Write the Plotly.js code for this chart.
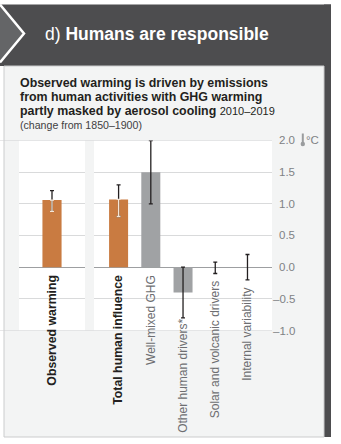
<!DOCTYPE html>
<html>
<head>
<meta charset="utf-8">
<script src="https://cdn.plot.ly/plotly-3.0.1.min.js"></script>
<style>html,body{margin:0;padding:0;background:#fff;}#chart{width:341px;height:444px;}</style>
</head>
<body>
<div id="chart"></div>
<script>
// ---- data ----
const observedCats = ['Observed warming'];
const observedValue = [1.06];
const observedLow = [0.88];
const observedHigh = [1.21];

const contribCats = ['Total human influence', 'Well-mixed GHG', 'Other human drivers*', 'Solar and volcanic drivers', 'Internal variability'];
const contribValue = [1.07, 1.5, -0.4, 0.0, 0.0];
const contribLow = [0.8, 1.0, -0.8, -0.1, -0.2];
const contribHigh = [1.3, 2.0, 0.0, 0.08, 0.2];

const yTickVals = [2, 1.5, 1, 0.5, 0, -0.5, -1];
const yTickText = ['2.0', '1.5', '1.0', '0.5', '0.0', '\u20130.5', '\u20131.0'];

const emphasisCats = ['Observed warming', 'Total human influence'];

// ---- styles ----
const W = 341, H = 444;
const px = x => x / W;
const py = y => 1 - y / H;
const FONT = 'Liberation Sans, Arial, sans-serif';
const ORANGE = '#c97b41';
const GREY = '#a0a2a4';
const DARK = '#4d4d4f';
const INK = '#231f20';
const LIGHTWHISK = '#f4e6d8';

const catColor = c => emphasisCats.includes(c) ? ORANGE : GREY;
const up = (v, h) => v.map((x, i) => h[i] - x);
const down = (v, l) => v.map((x, i) => x - l[i]);

const errStyle = {type: 'data', symmetric: false, color: INK, thickness: 1.3, width: 2};

const traces = [
  {type: 'bar', x: observedCats, y: observedValue, xaxis: 'x', yaxis: 'y', width: 0.29,
   marker: {color: observedCats.map(catColor), line: {width: 0}},
   error_y: Object.assign({}, errStyle, {array: up(observedValue, observedHigh), arrayminus: down(observedValue, observedLow)}),
   hoverinfo: 'skip'},
  {type: 'bar', x: contribCats, y: contribValue, xaxis: 'x2', yaxis: 'y', width: 0.59,
   marker: {color: contribCats.map(catColor), line: {width: 0}},
   error_y: Object.assign({}, errStyle, {array: up(contribValue, contribHigh), arrayminus: down(contribValue, contribLow)}),
   hoverinfo: 'skip'}
];
// light whisker inside the orange bars
[[observedCats, observedValue, observedLow, 'x'], [contribCats, contribValue, contribLow, 'x2']].forEach(([cats, vals, lows, xa]) => {
  cats.forEach((c, i) => {
    if (!emphasisCats.includes(c)) return;
    traces.push({type: 'scatter', mode: 'markers', x: [c], y: [vals[i]], xaxis: xa, yaxis: 'y',
      marker: {opacity: 0, size: 1},
      error_y: Object.assign({}, errStyle, {color: LIGHTWHISK, array: [0], arrayminus: [vals[i] - lows[i]]}),
      hoverinfo: 'skip'});
  });
});

const annotations = [];
// header
annotations.push({xref: 'paper', yref: 'paper', x: px(45), y: py(33.5), xanchor: 'left', yanchor: 'middle',
  text: 'd) <b>Humans are responsible</b>', showarrow: false, borderpad: 0, borderwidth: 0,
  font: {family: FONT, size: 17.5, color: '#ffffff'}});
// chart title
const titleLines = [
  ['<b>Observed warming is driven by emissions</b>', 82.6, 12.4, INK],
  ['<b>from human activities with GHG warming</b>', 96.6, 12.4, INK],
  ['<b>partly masked by aerosol cooling</b> <span style="font-size:11px">2010\u20132019</span>', 110.6, 12.4, INK],
  ['(change from 1850\u20131900)', 125.3, 10.6, '#414042']
];
titleLines.forEach(([t, y, s, c]) => annotations.push({xref: 'paper', yref: 'paper', x: px(20), y: py(y),
  xanchor: 'left', yanchor: 'middle', text: t, showarrow: false, borderpad: 0, borderwidth: 0,
  font: {family: FONT, size: s, color: c}}));
// y tick labels (right aligned)
yTickVals.forEach((v, i) => annotations.push({xref: 'paper', yref: 'y', x: px(295), y: v,
  xanchor: 'right', yanchor: 'middle', text: yTickText[i], showarrow: false, borderpad: 0, borderwidth: 0,
  font: {family: FONT, size: 11.5, color: '#808285'}}));
annotations.push({xref: 'paper', yref: 'y', x: px(305.5), y: yTickVals[0], xanchor: 'left', yanchor: 'middle',
  text: '\u00b0C', showarrow: false, borderpad: 0, borderwidth: 0, font: {family: FONT, size: 11.5, color: '#808285'}});
// category labels
function catLabels(cats, vals, lows, xa) {
  cats.forEach((c, i) => {
    const em = emphasisCats.includes(c);
    const anchor = Math.min(0, lows[i]);
    annotations.push({xref: xa, yref: 'y', x: c, y: anchor, xanchor: 'center', yanchor: 'top',
      yshift: vals[i] < 0 ? -1 : -8, textangle: -90, showarrow: false, borderpad: 0, borderwidth: 0,
      text: em ? '<b>' + c + '</b>' : c,
      font: {family: FONT, size: em ? 12.3 : 12, color: em ? INK : '#6d6e71'}});
  });
}
catLabels(observedCats, observedValue, observedLow, 'x');
catLabels(contribCats, contribValue, contribLow, 'x2');

const pathStr = pts => pts.map((p, i) => (i ? 'L' : 'M') + px(p[0]) + ',' + py(p[1])).join(' ');

const shapes = [
  {type: 'rect', xref: 'paper', yref: 'paper', x0: px(0), x1: px(331), y0: py(66), y1: py(4.5), fillcolor: DARK, line: {width: 0}, layer: 'below'},
  {type: 'rect', xref: 'paper', yref: 'paper', x0: px(324), x1: px(331), y0: py(437), y1: py(4.5), fillcolor: DARK, line: {width: 0}, layer: 'below'},
  {type: 'path', xref: 'paper', yref: 'paper', path: pathStr([[0, 4.5], [24, 33.5], [0, 62.5]]) + ' Z', fillcolor: '#646567', line: {width: 0}, layer: 'below'},
  {type: 'path', xref: 'paper', yref: 'paper', path: pathStr([[0, 4.5], [24, 33.5], [0, 62.5]]), line: {color: '#ffffff', width: 2.5}, layer: 'below'},
  {type: 'rect', xref: 'paper', yref: 'paper', x0: px(4), x1: px(324), y0: py(437), y1: py(66), fillcolor: '#f3f4f4', line: {color: '#cbcccd', width: 1}, layer: 'below'},
  {type: 'rect', xref: 'x domain', yref: 'y domain', x0: 0, x1: 1, y0: 0, y1: 1, fillcolor: '#ffffff', line: {width: 0}, layer: 'below'},
  {type: 'rect', xref: 'x2 domain', yref: 'y domain', x0: 0, x1: 1, y0: 0, y1: 1, fillcolor: '#ffffff', line: {width: 0}, layer: 'below'},
  {type: 'line', xref: 'paper', yref: 'y', x0: 0, x1: px(272), y0: yTickVals[0], y1: yTickVals[0], line: {color: '#cfd0d1', width: 1}, layer: 'below'},
  {type: 'line', xref: 'paper', yref: 'y', x0: 0, x1: px(272), y0: yTickVals[yTickVals.length - 1], y1: yTickVals[yTickVals.length - 1], line: {color: '#cfd0d1', width: 1}, layer: 'below'},
  // thermometer icon
  {type: 'rect', xref: 'paper', yref: 'paper', x0: px(301.8), x1: px(303.8), y0: py(143), y1: py(133.5), fillcolor: '#9a9c9e', line: {width: 0}},
  {type: 'circle', xref: 'paper', yref: 'paper', x0: px(300.6), x1: px(305), y0: py(146.2), y1: py(141.8), fillcolor: '#9a9c9e', line: {width: 0}}
];

const axCommon = {type: 'category', showticklabels: false, showgrid: false, zeroline: false, showline: false, ticks: '', fixedrange: true};

const layout = {
  width: W, height: H, autosize: false,
  margin: {l: 0, r: 0, t: 0, b: 0, pad: 0},
  paper_bgcolor: '#ffffff', plot_bgcolor: 'rgba(0,0,0,0)',
  showlegend: false,
  font: {family: FONT},
  xaxis: Object.assign({}, axCommon, {domain: [px(19), px(85)], anchor: 'y', range: [-0.5, 0.5]}),
  xaxis2: Object.assign({}, axCommon, {domain: [px(94), px(272)], anchor: 'y', range: [-0.763, 4.761]}),
  yaxis: {domain: [py(330.5), py(140.5)], range: [-1, 2], tickvals: yTickVals, showticklabels: false,
    ticks: '', showline: false, gridcolor: '#d9dadb', gridwidth: 1, zeroline: true, zerolinecolor: '#9d9fa1',
    zerolinewidth: 1, anchor: 'x2', side: 'right', fixedrange: true},
  shapes: shapes,
  annotations: annotations
};

Plotly.newPlot('chart', traces, layout, {displayModeBar: false, staticPlot: true});
</script>
</body>
</html>
